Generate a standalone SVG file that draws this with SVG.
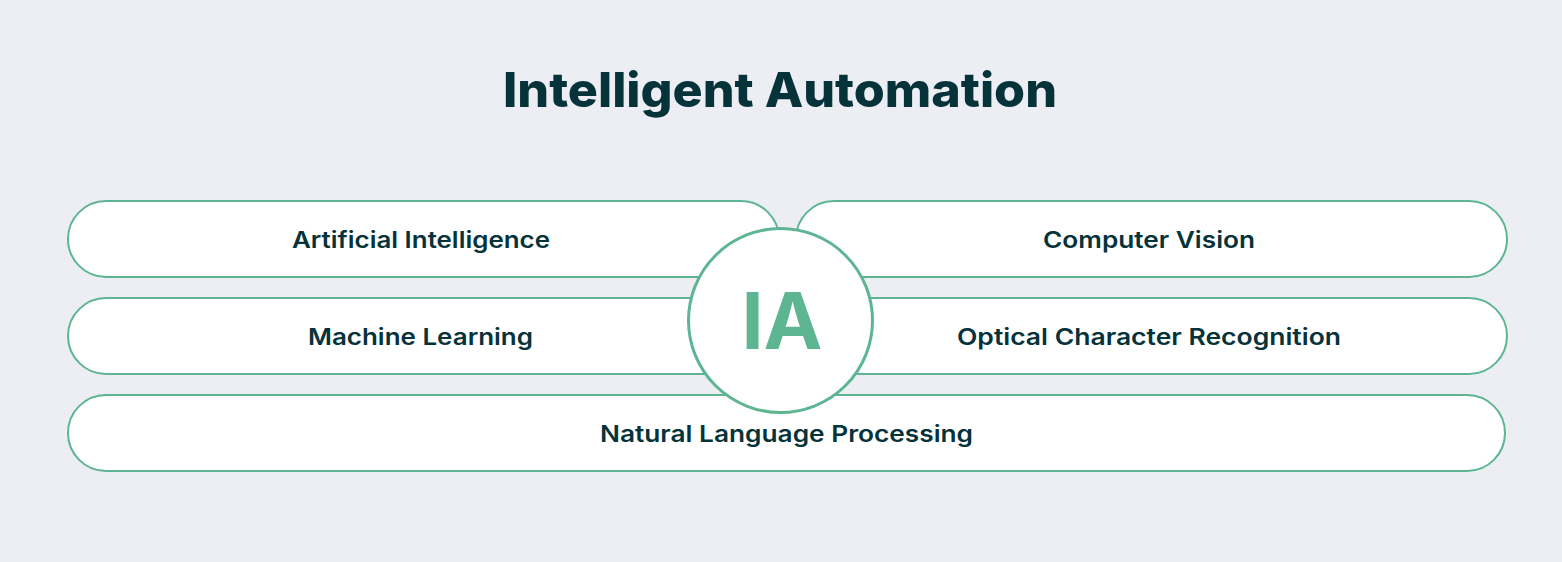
<svg xmlns="http://www.w3.org/2000/svg" width="1562" height="562" viewBox="0 0 1562 562">
<style>
.pill{fill:#ffffff;stroke:#5db592;stroke-width:2}
.lbl{font-family:Inter,"Liberation Sans",sans-serif;font-weight:600;font-size:22.5px;fill:#06333a;text-anchor:middle}
.title{font-family:Inter,"Liberation Sans",sans-serif;font-weight:800;font-size:48px;fill:#06333a;text-anchor:middle}
.ia{font-family:Inter,"Liberation Sans",sans-serif;font-weight:700;font-size:79px;fill:#5db592;text-anchor:middle}
</style>
<rect width="1562" height="562" fill="#eceef3"/>
<text class="title" x="780" y="107" textLength="554" lengthAdjust="spacingAndGlyphs">Intelligent Automation</text>
<g id="connectors"></g>
<g id="node-ai">
<rect class="pill" x="68" y="201" width="711" height="76" rx="38"/>
<text class="lbl" x="421" y="248" textLength="258" lengthAdjust="spacingAndGlyphs">Artificial Intelligence</text>
</g>
<g id="node-cv">
<rect class="pill" x="796" y="201" width="711" height="76" rx="38"/>
<text class="lbl" x="1149" y="248" textLength="212" lengthAdjust="spacingAndGlyphs">Computer Vision</text>
</g>
<g id="node-ml">
<rect class="pill" x="68" y="298" width="720" height="76" rx="38"/>
<text class="lbl" x="420.5" y="345" textLength="225" lengthAdjust="spacingAndGlyphs">Machine Learning</text>
</g>
<g id="node-ocr">
<rect class="pill" x="775" y="298" width="732" height="76" rx="38"/>
<text class="lbl" x="1149" y="345" textLength="384" lengthAdjust="spacingAndGlyphs">Optical Character Recognition</text>
</g>
<g id="node-nlp">
<rect class="pill" x="68" y="395" width="1437" height="76" rx="38"/>
<text class="lbl" x="786.5" y="442" textLength="373" lengthAdjust="spacingAndGlyphs">Natural Language Processing</text>
</g>
<g id="node-ia">
<circle cx="780.5" cy="320.5" r="92" fill="#ffffff" stroke="#5db592" stroke-width="3"/>
<text class="ia" x="782" y="349">IA</text>
</g>
</svg>
